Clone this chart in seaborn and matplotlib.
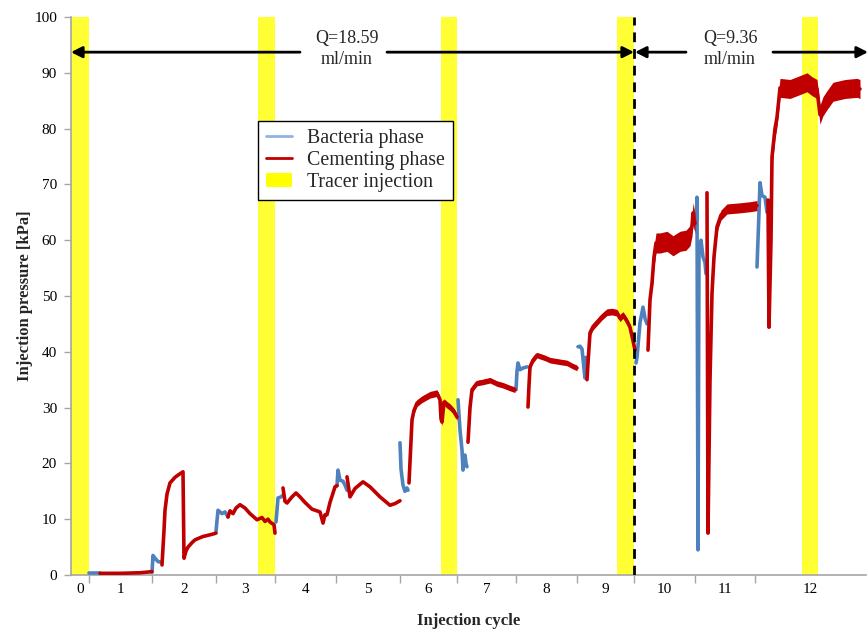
import numpy as np
import pandas as pd
import matplotlib
matplotlib.use("Agg")
import matplotlib.pyplot as plt
from matplotlib.lines import Line2D
from matplotlib.patches import Patch
import seaborn as sns

# ---------------- data ----------------
# time axis in arbitrary units (cycle boundaries below)
cycle_labels = ["0", "1", "2", "3", "4", "5", "6", "7", "8", "9", "10", "11", "12"]
cycle_bounds = [0, 18, 81, 145, 204, 265, 329, 386, 445, 506, 563, 624, 684, 795]
tracer_start = [0, 187, 370, 546, 731]
tracer_end = [18, 204, 386, 563, 747]
rate_change_t = 563
rate_labels = ["Q=18.59\nml/min", "Q=9.36\nml/min"]

bacteria_t = [
    [18, 29],
    [81, 82, 84, 87, 90],
    [145, 147, 151, 154, 157],
    [205, 207, 210, 212],
    [266, 267, 269, 272, 274, 276],
    [329, 330, 332, 334, 336, 337],
    [387, 389, 391, 392, 394, 395, 396],
    [445, 446, 447, 449, 452, 456],
    [507, 509, 511, 513, 514, 515],
    [565, 566, 569, 572, 574, 576],
    [625, 626, 627, 628, 630, 632, 634, 635],
    [686, 688, 689, 691, 694, 696],
]
bacteria_p = [
    [0.3, 0.3],
    [0.5, 3.5, 3.0, 2.4, 2.3],
    [7.8, 11.6, 11.0, 11.3, 10.4],
    [9.5, 13.8, 14.0, 14.3],
    [16.0, 18.8, 17.0, 16.8, 16.1, 15.2],
    [23.7, 19.0, 16.1, 15.0, 15.6, 15.2],
    [31.4, 26.0, 22.4, 18.8, 21.5, 20.0, 19.4],
    [33.2, 36.5, 38.0, 36.8, 37.1, 37.3],
    [40.9, 41.0, 40.5, 37.0, 35.3, 39.0],
    [38.0, 39.0, 45.2, 48.0, 46.0, 45.0],
    [62.0, 67.7, 4.5, 58.0, 60.0, 57.0, 56.0, 54.0],
    [55.2, 65.0, 70.3, 68.0, 67.7, 65.0],
]

cementing_t = [
    [29, 49, 69, 81],
    [91, 93, 94, 96, 99, 104, 107, 112, 113, 115, 117, 121, 124, 132, 139, 145],
    [157, 159, 162, 165, 169, 174, 179, 186, 191, 194, 197, 199, 203, 204],
    [212, 214, 216, 221, 225, 229, 234, 241, 249, 251, 252, 254, 256, 259, 264, 266],
    [276, 279, 284, 292, 299, 309, 319, 324, 329],
    [338, 340, 341, 343, 346, 351, 359, 366, 369, 370, 371, 373, 376, 379, 383, 386],
    [397, 399, 401, 406, 412, 419, 426, 432, 439, 444],
    [457, 458, 459, 462, 466, 474, 479, 489, 496, 501, 506],
    [516, 517, 519, 522, 526, 531, 536, 541, 546, 549, 552, 556, 559, 562, 564],
    [577, 579, 581, 583, 585, 589, 596, 602, 609, 615, 619, 621, 622, 624],
    [636, 637, 639, 641, 643, 646, 650, 656, 669, 679, 686],
    [697, 698, 700, 701, 704, 706, 708, 709, 719, 729, 736, 741, 746, 748, 749, 752, 756, 762, 774, 786, 789],
]
cementing_p = [
    [0.3, 0.3, 0.4, 0.6],
    [1.8, 8.0, 11.6, 14.5, 16.5, 17.5, 17.9, 18.5, 3.0, 4.3, 5.0, 5.8, 6.3, 6.9, 7.2, 7.5],
    [10.4, 11.5, 11.0, 12.0, 12.6, 12.0, 11.0, 9.9, 10.3, 9.6, 10.0, 9.5, 9.0, 7.5],
    [15.6, 13.2, 12.9, 14.0, 14.7, 14.0, 13.0, 11.8, 11.3, 10.0, 9.3, 10.8, 10.8, 13.0, 15.8, 16.0],
    [17.6, 14.0, 15.5, 16.7, 15.8, 14.0, 12.5, 12.8, 13.3],
    [16.5, 24.0, 27.8, 29.5, 30.8, 31.5, 32.3, 32.6, 31.4, 28.0, 27.4, 31.0, 30.5, 30.1, 29.3, 28.3],
    [23.8, 30.0, 33.2, 34.4, 34.6, 34.9, 34.3, 34.0, 33.5, 33.2],
    [30.1, 34.0, 37.3, 38.5, 39.4, 38.9, 38.5, 38.2, 38.0, 37.5, 37.1],
    [35.0, 38.0, 43.4, 44.5, 45.3, 46.3, 47.1, 47.2, 47.0, 46.0, 46.6, 45.5, 44.4, 42.0, 40.3],
    [40.3, 49.3, 52.3, 57.0, 59.5, 59.5, 59.8, 59.0, 59.8, 60.0, 60.8, 62.5, 64.9, 63.0],
    [68.5, 7.5, 35.0, 50.5, 57.0, 62.4, 64.5, 65.6, 65.8, 66.0, 66.2],
    [67.2, 44.4, 60.0, 74.9, 80.0, 82.0, 85.5, 87.3, 87.1, 87.8, 88.3, 87.6, 87.1, 84.0, 82.5, 84.0, 85.1, 86.6, 87.1, 87.3, 87.1],
]
# approximate half-width of the measurement noise band of each cementing segment [kPa]
cementing_noise = [0.0, 0.0, 0.0, 0.0, 0.0, 0.6, 0.5, 0.5, 0.6, 1.8, 0.9, 1.7]

# ---------------- build long table ----------------
rows = []
seg = 0
for phase, ts, ps in (("Bacteria phase", bacteria_t, bacteria_p),
                      ("Cementing phase", cementing_t, cementing_p)):
    for t, p in zip(ts, ps):
        for a, b in zip(t, p):
            rows.append((phase, seg, a, b))
        seg += 1
df = pd.DataFrame(rows, columns=["phase", "segment", "t", "p"])

# ---------------- plot ----------------
sns.set_theme(style="white")
plt.rcParams["font.family"] = ["Liberation Serif", "DejaVu Serif"]

blue = "#4f81bd"
red = "#c00000"
yellow = "#ffff33"

fig = plt.figure(figsize=(8.68, 6.29), dpi=100)
ax = fig.add_axes([71 / 868, 54 / 629, 795 / 868, 558 / 629])

for s, e in zip(tracer_start, tracer_end):
    ax.axvspan(s, e, color=yellow, lw=0, zorder=0)

sns.lineplot(data=df, x="t", y="p", hue="phase", units="segment",
             estimator=None, sort=False, palette={"Bacteria phase": blue, "Cementing phase": red},
             linewidth=2.6, legend=False, ax=ax, zorder=3)

# noise band of cementing phase
for t, p, n in zip(cementing_t, cementing_p, cementing_noise):
    if n > 0:
        t = np.asarray(t, float)
        p = np.asarray(p, float)
        ax.fill_between(t[2:], p[2:] - n, p[2:] + n, color=red, lw=0, zorder=3)

ax.axvline(rate_change_t, color="black", lw=2, ls=(0, (3.5, 2.5)), zorder=4)

ax.set_xlim(cycle_bounds[0], cycle_bounds[-1])
ax.set_ylim(0, 100)
ax.set_yticks(np.arange(0, 101, 10))

mids = [(a + b) / 2 for a, b in zip(cycle_bounds[:-1], cycle_bounds[1:])]
ax.set_xticks(mids)
ax.set_xticklabels(cycle_labels)
ax.set_xticks(cycle_bounds[1:-1], minor=True)
ax.tick_params(axis="x", which="major", length=0, pad=6, labelsize=11, colors="black")
ax.tick_params(axis="x", which="minor", length=6, width=1, color="#a6a6a6", direction="out", bottom=True)
ax.tick_params(axis="y", which="major", length=5, width=1, color="#a6a6a6", pad=5, labelsize=11,
               direction="out", left=True, labelcolor="black")

for side in ("top", "right"):
    ax.spines[side].set_visible(False)
for side in ("left", "bottom"):
    ax.spines[side].set_color("#a6a6a6")
    ax.spines[side].set_linewidth(1.2)

ax.set_xlabel("Injection cycle", fontsize=12, fontweight="bold", labelpad=12)
ax.set_ylabel("Injection pressure [kPa]", fontsize=12, fontweight="bold", labelpad=1)

# flow-rate arrows
ya = 93.7
arrow_kw = dict(arrowstyle="-|>,head_length=0.55,head_width=0.28", color="black", lw=2, shrinkA=0, shrinkB=0)
ax.annotate("", xy=(0, ya), xytext=(229, ya), arrowprops=arrow_kw, annotation_clip=False)
ax.annotate("", xy=(rate_change_t, ya), xytext=(316, ya), arrowprops=arrow_kw, annotation_clip=False)
ax.annotate("", xy=(rate_change_t + 1, ya), xytext=(615, ya), arrowprops=arrow_kw, annotation_clip=False)
ax.annotate("", xy=(797, ya), xytext=(702, ya), arrowprops=arrow_kw, annotation_clip=False)
ax.text(276, ya + 0.6, rate_labels[0], ha="center", va="center", fontsize=13, linespacing=1.3)
ax.text(659, ya + 0.6, rate_labels[1], ha="center", va="center", fontsize=13, linespacing=1.3)

handles = [Line2D([], [], color="#8eb4e3", lw=2),
           Line2D([], [], color=red, lw=2),
           Patch(facecolor="#ffff00", edgecolor="none")]
leg = ax.legend(handles, ["Bacteria phase", "Cementing phase", "Tracer injection"],
                loc="upper left", bbox_to_anchor=(0.235, 0.814), fontsize=14.3,
                frameon=True, fancybox=False, edgecolor="black", framealpha=1,
                handlelength=1.3, handleheight=0.7, borderpad=0.42, labelspacing=0.14,
                handletextpad=0.75, borderaxespad=0)
leg.get_frame().set_linewidth(1.0)
leg._legend_box.sep = 0
for h in leg.legend_handles:
    pass

fig.savefig("out.png", dpi=100)
